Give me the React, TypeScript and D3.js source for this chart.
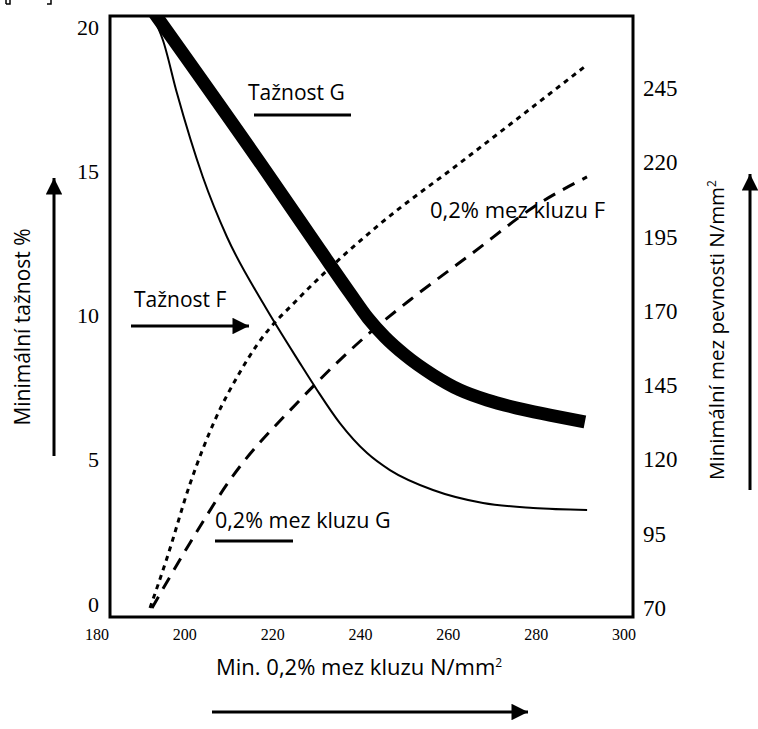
import React from "react";
import * as d3 from "d3";

const xTicks = [180, 200, 220, 240, 260, 280, 300];
const yLeftTicks = [0, 5, 10, 15, 20];
const yRightTicks = [70, 95, 120, 145, 170, 195, 220, 245];

// Tažnost (thick) – left axis
const thickX = [192.5, 218.3, 230.8, 237.6, 241.7, 245.57, 250.13, 256.5, 262.6, 268.8, 275.6, 283.1, 291.1];
const thickY = [20.6, 15.04, 12.27, 10.78, 9.91, 9.25, 8.63, 7.94, 7.42, 7.07, 6.79, 6.55, 6.31];
// Tažnost (thin) – left axis
const thinX = [192.75, 195.0, 198.2, 204.1, 209.6, 217.8, 226.2, 230.1, 235.3, 241.5, 246.7, 256.5, 267.9, 279.3, 291.6];
const thinY = [20.35, 19.55, 17.71, 14.8, 12.72, 10.43, 8.35, 7.42, 6.27, 5.23, 4.64, 3.95, 3.5, 3.33, 3.26];
// dotted – right axis
const dotX = [192.07, 195.94, 201.17, 206.87, 212.57, 216.43, 226.22, 236.01, 244.44, 262.65, 291.57];
const dotY = [70, 86.83, 111.74, 133.28, 149.44, 158.53, 174.68, 188.48, 199.25, 219.78, 252.77];
// dashed – right axis
const dashX = [192.52, 201.17, 210.28, 226.22, 242.84, 251.27, 264.93, 280.87, 291.57];
const dashY = [70, 91.88, 113.08, 140.01, 163.57, 173.67, 188.81, 206.32, 215.07];

const SANS = "'Open Sans', 'Noto Sans', sans-serif";
const SERIF = "'Liberation Serif', 'DejaVu Serif', serif";

export default function App() {
  const x = d3.scaleLinear().domain([180, 300]).range([97, 624]);
  const yL = d3.scaleLinear().domain([0, 20]).range([604, 27]);
  const yR = d3.scaleLinear().domain([70, 245]).range([608, 88]);
  const frame = { x0: 110, y0: 16, x1: 633, y1: 617 };

  const lineL = d3
    .line<[number, number]>()
    .x((d) => x(d[0]))
    .y((d) => yL(d[1]))
    .curve(d3.curveMonotoneX);
  const lineR = d3
    .line<[number, number]>()
    .x((d) => x(d[0]))
    .y((d) => yR(d[1]))
    .curve(d3.curveMonotoneX);

  const zip = (a: number[], b: number[]) => a.map((v, i) => [v, b[i]] as [number, number]);

  return (
    <svg width={758} height={729} style={{ position: "absolute", left: 0, top: 0, background: "#fff" }}>
      <defs>
        <clipPath id="plotclip">
          <rect x={frame.x0} y={frame.y0} width={frame.x1 - frame.x0} height={frame.y1 - frame.y0} />
        </clipPath>
        <marker id="arr" viewBox="0 0 10 10" refX="10" refY="5" markerWidth="6.5" markerHeight="5.5" orient="auto" markerUnits="strokeWidth">
          <path d="M0,0 L10,5 L0,10 z" fill="#000" />
        </marker>
      </defs>

      {/* bracket fragment at top-left */}
      <path d="M10,0 V4 H6 M6,0 V4" stroke="#000" strokeWidth={1.5} fill="none" />
      <path d="M47,4 H51 V0" stroke="#000" strokeWidth={1.5} fill="none" />

      <g clipPath="url(#plotclip)">
        <path d={lineL(zip(thickX, thickY)) || ""} fill="none" stroke="#000" strokeWidth={13} />
        <path d={lineL(zip(thinX, thinY)) || ""} fill="none" stroke="#000" strokeWidth={2} />
        <path d={lineR(zip(dotX, dotY)) || ""} fill="none" stroke="#000" strokeWidth={3} strokeDasharray="5,5" />
        <path d={lineR(zip(dashX, dashY)) || ""} fill="none" stroke="#000" strokeWidth={3} strokeDasharray="13,9" />
      </g>

      <rect
        x={frame.x0}
        y={frame.y0}
        width={frame.x1 - frame.x0}
        height={frame.y1 - frame.y0}
        fill="none"
        stroke="#000"
        strokeWidth={3}
      />

      {/* tick labels */}
      {xTicks.map((t) => (
        <text key={"x" + t} x={x(t)} y={640} textAnchor="middle" fontFamily={SERIF} fontSize={16}>
          {t}
        </text>
      ))}
      {yLeftTicks.map((t) => (
        <text key={"l" + t} x={99} y={yL(t)} dy="0.35em" textAnchor="end" fontFamily={SERIF} fontSize={22}>
          {t}
        </text>
      ))}
      {yRightTicks.map((t) => (
        <text key={"r" + t} x={643} y={yR(t)} dy="0.35em" textAnchor="start" fontFamily={SERIF} fontSize={23}>
          {t}
        </text>
      ))}

      {/* annotations */}
      <text x={248} y={100} fontFamily={SANS} fontSize={21}>Tažnost G</text>
      <line x1={254} y1={115} x2={351} y2={115} stroke="#000" strokeWidth={3} />

      <text x={134} y={307} fontFamily={SANS} fontSize={21}>Tažnost F</text>
      <line x1={131} y1={326} x2={249} y2={326} stroke="#000" strokeWidth={3} markerEnd="url(#arr)" />

      <text x={430} y={218} fontFamily={SANS} fontSize={22}>0,2% mez kluzu F</text>

      <text x={215} y={528} fontFamily={SANS} fontSize={21.5}>0,2% mez kluzu G</text>
      <line x1={215} y1={541} x2={293} y2={541} stroke="#000" strokeWidth={3} />

      {/* axis titles */}
      <text
        transform="translate(30,327) rotate(-90)"
        textAnchor="middle"
        fontFamily={SANS}
        fontSize={21}
      >
        Minimální tažnost %
      </text>
      <line x1={54} y1={456} x2={54} y2={178} stroke="#000" strokeWidth={3} markerEnd="url(#arr)" />

      <text
        transform="translate(724,330) rotate(-90)"
        textAnchor="middle"
        fontFamily={SANS}
        fontSize={20.5}
      >
        Minimální mez pevnosti N/mm<tspan dy="-8" fontSize={12}>2</tspan>
      </text>
      <line x1={750} y1={490} x2={750} y2={174} stroke="#000" strokeWidth={3} markerEnd="url(#arr)" />

      <text x={216} y={675} fontFamily={SANS} fontSize={22}>
        Min. 0,2% mez kluzu N/mm<tspan dy="-8" fontSize={12}>2</tspan>
      </text>
      <line x1={212} y1={712} x2={528} y2={712} stroke="#000" strokeWidth={3} markerEnd="url(#arr)" />
    </svg>
  );
}
